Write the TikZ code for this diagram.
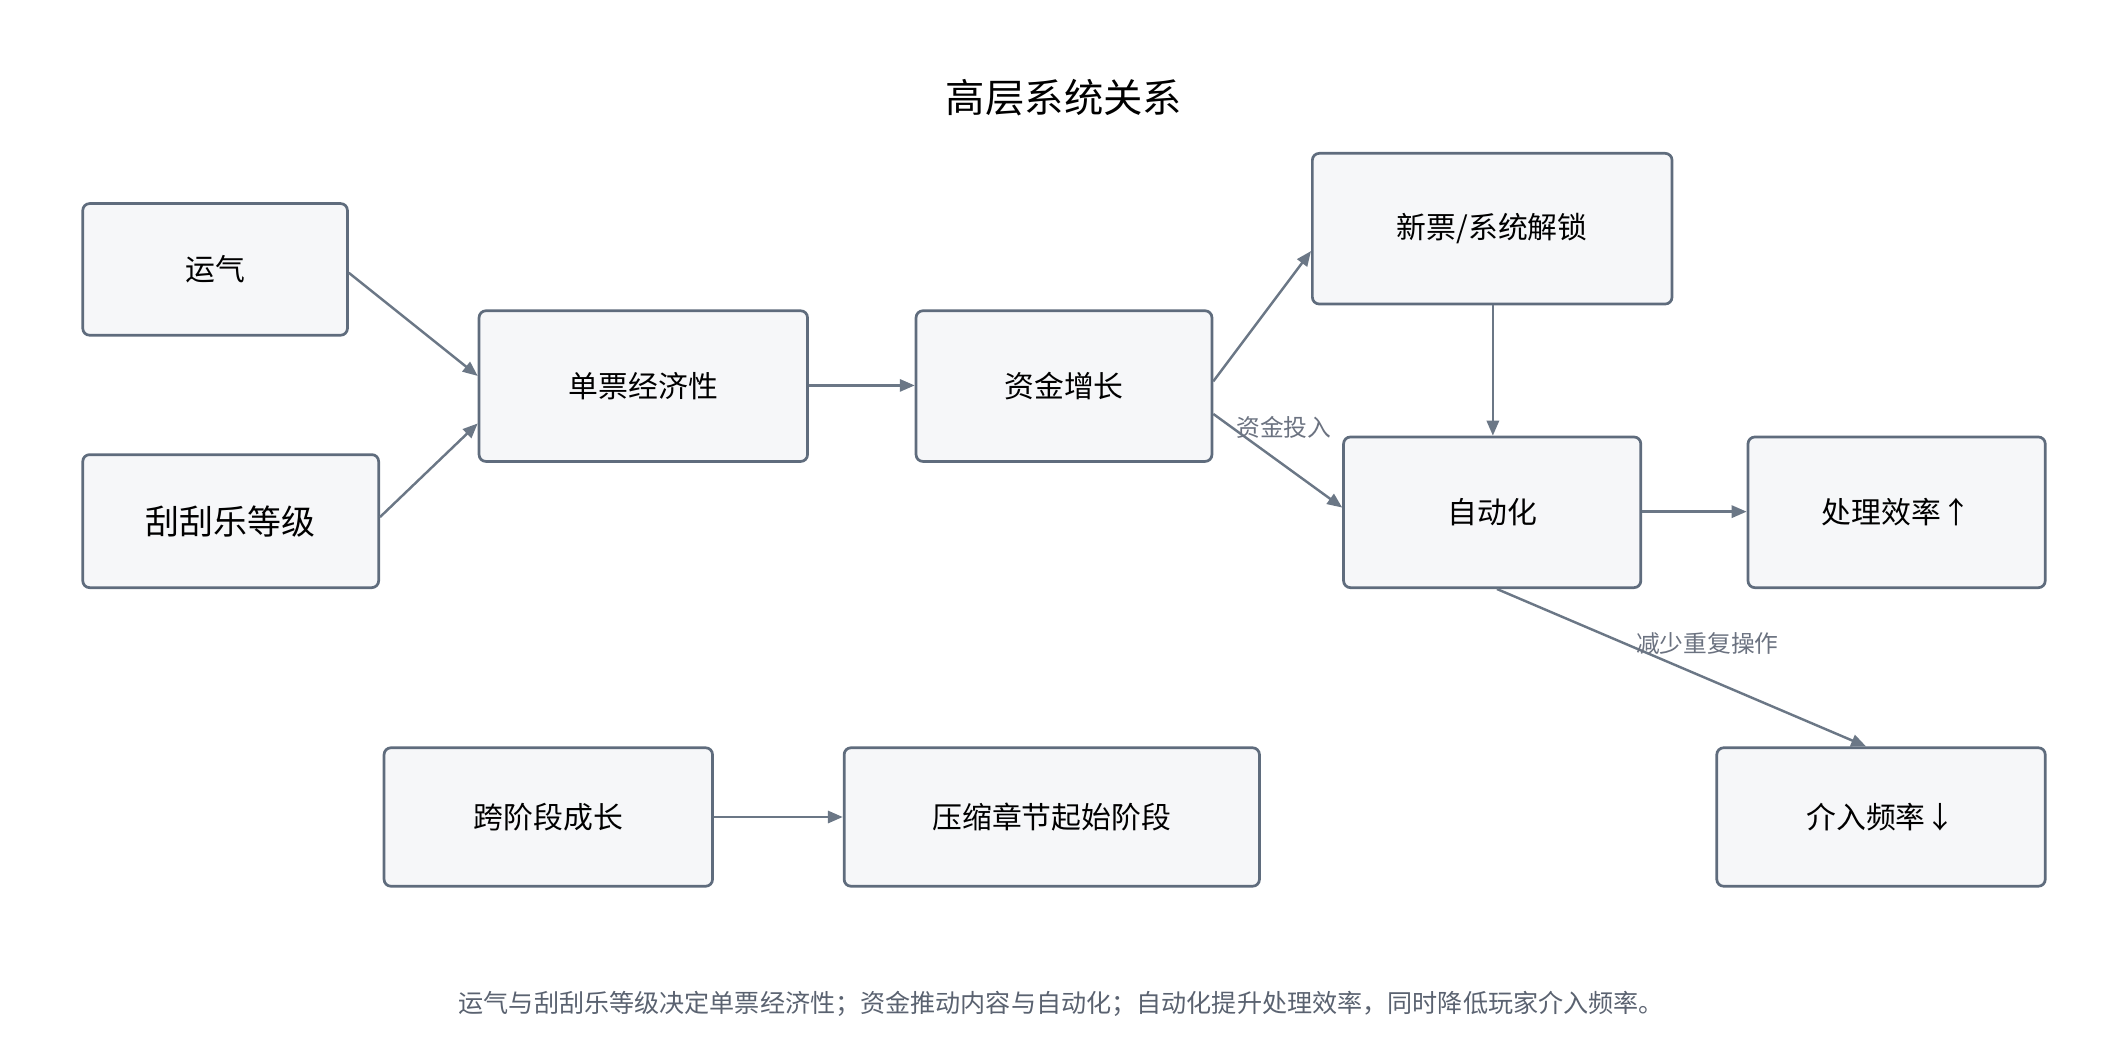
\documentclass[tikz,border=0pt]{standalone}
\usepackage{fontspec}
\setmainfont{Noto Sans CJK SC}
\usetikzlibrary{arrows.meta}
\definecolor{bd}{HTML}{5F6C7D}
\definecolor{fl}{HTML}{F6F7F9}
\definecolor{ar}{HTML}{6B7786}
\definecolor{lb}{HTML}{6B7280}
\definecolor{cp}{HTML}{5A6270}
\begin{document}
\begin{tikzpicture}[x=1pt,y=-1pt,
 box/.style={draw=bd,fill=fl,line width=2pt,rounded corners=5pt,font=\fontsize{22}{26}\selectfont},
 arr/.style={draw=ar,line width=1.8pt,-{Triangle[length=11pt,width=9pt]}},
 lab/.style={font=\fontsize{17.5}{20}\selectfont,text=lb}]
\useasboundingbox (0,0) rectangle (1568,778);
\node at (784,72) {\fontsize{29}{33}\selectfont 高层系统关系};
\newcommand\bx[4]{\node[box,minimum width=#3-#1,minimum height=#4-#2] at ({(#1+#3)/2},{(#2+#4)/2})}
\bx{61}{150}{256}{247} (yq) {运气};
\bx{61}{335}{279}{433} (gg) {\fontsize{25}{28}\selectfont 刮刮乐等级};
\bx{353}{229}{595}{340} (dp) {单票经济性};
\bx{675}{229}{893}{340} (zj) {资金增长};
\bx{967}{113}{1232}{224} (xp) {新票/系统解锁};
\bx{990}{322}{1209}{433} (zd) {自动化};
\bx{1288}{322}{1507}{433} (cl) {处理效率↑};
\bx{283}{551}{525}{653} (kj) {跨阶段成长};
\bx{622}{551}{928}{653} (ys) {压缩章节起始阶段};
\bx{1265}{551}{1507}{653} (jr) {介入频率↓};
\draw[arr] (yq.east |- 0,201) -- (dp.west |- 0,277);
\draw[arr] (gg.east |- 0,381) -- (dp.west |- 0,312);
\draw[arr] (dp.east |- 0,284) -- (zj.west |- 0,284);
\draw[arr] (zj.east |- 0,281) -- (xp.west |- 0,185);
\draw[arr] (zj.east |- 0,305) -- (zd.west |- 0,374);
\node[lab] at (946,315) {资金投入};
\draw[arr] (xp.south -| 1100,0) -- (zd.north -| 1100,0);
\draw[arr] (zd.east |- 0,377) -- (cl.west |- 0,377);
\draw[arr] (zd.south -| 1103,0) -- (jr.north -| 1375,0);
\node[lab] at (1258,474) {减少重复操作};
\draw[arr] (kj.east |- 0,602) -- (ys.west |- 0,602);
\node[text=cp,font=\fontsize{18.5}{22}\selectfont] at (782,740) {运气与刮刮乐等级决定单票经济性；资金推动内容与自动化；自动化提升处理效率，同时降低玩家介入频率。};
\end{tikzpicture}
\end{document}
